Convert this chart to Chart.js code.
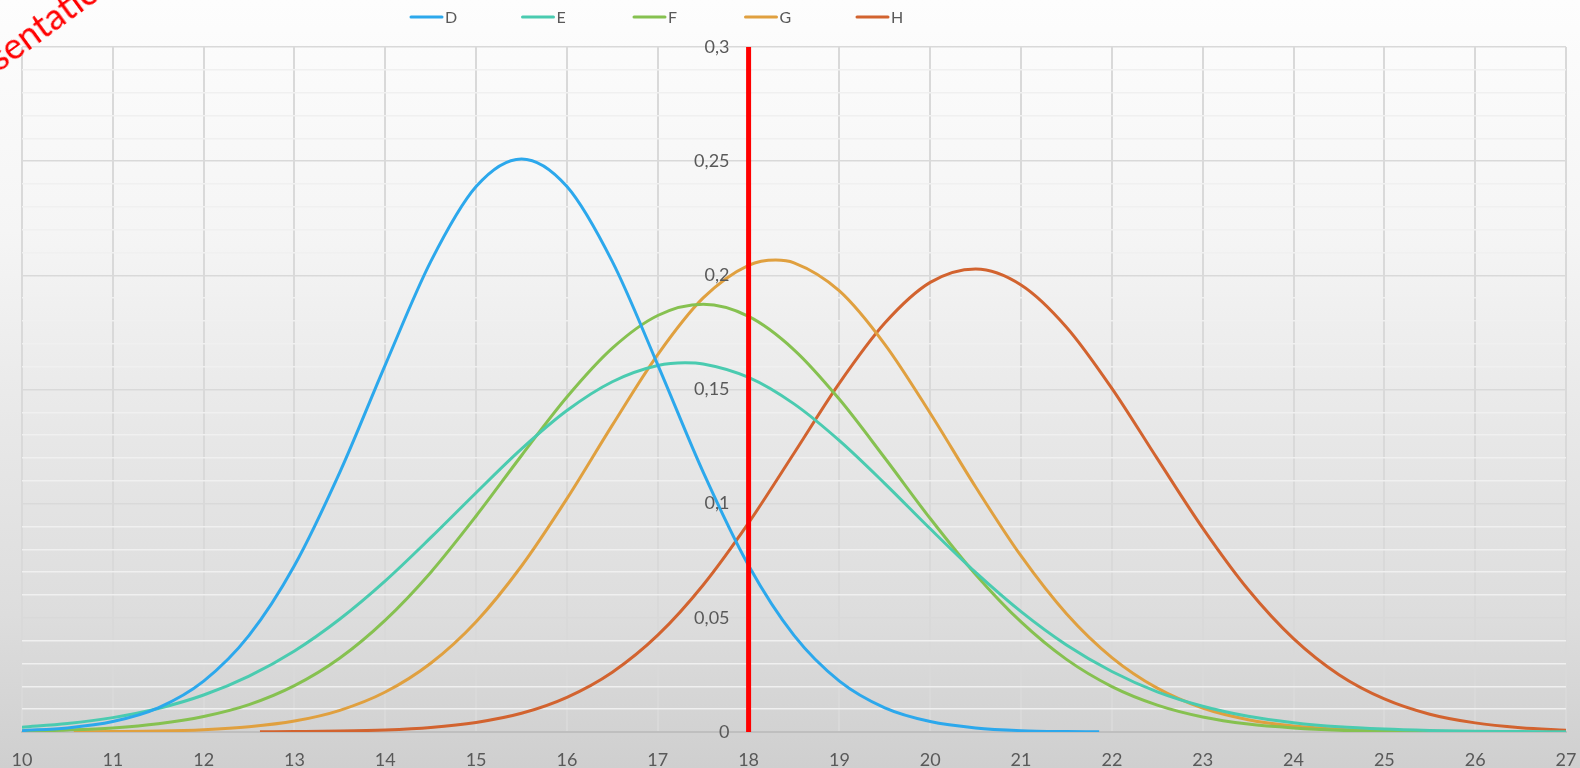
<!DOCTYPE html>
<html>
<head>
<meta charset="utf-8">
<script src="https://cdn.jsdelivr.net/npm/chart.js@4.4.1/dist/chart.umd.min.js"></script>
<style>
  html, body { margin: 0; padding: 0; }
  body {
    width: 1580px; height: 768px; overflow: hidden; position: relative;
    background: linear-gradient(to bottom, #fdfdfd 0%, #f5f5f5 30%, #e8e8e8 55%, #dddddd 80%, #cfcfcf 100%);
  }
  #c { position: absolute; left: 0; top: 0; }
  #mark {
    position: absolute; left: -62px; top: 77px;
    font-family: Lato, "DejaVu Sans", sans-serif; font-size: 36px; line-height: 1; color: #ff0000;
    transform: rotate(-36deg); transform-origin: 0 0; white-space: nowrap;
  }
</style>
</head>
<body>
<canvas id="c" width="1580" height="768"></canvas>
<div id="mark">Presentation</div>
<script>
// series names and colours
const names = ['D', 'E', 'F', 'G', 'H'];
const colors = ['#2ca8ec', '#4acbb0', '#86c150', '#e0a03f', '#d2632f'];

// x positions and values, one pair of lists per series
const xD = [10, 10.5, 11, 11.5, 12, 12.5, 13, 13.5, 14, 14.5, 15, 15.5, 16, 16.5, 17, 17.5, 18, 18.5, 19, 19.5, 20, 20.5, 21, 21.5, 21.86];
const dValues = [0.0006, 0.0018, 0.0046, 0.0106, 0.0223, 0.0423, 0.0729, 0.1138, 0.1608, 0.2060, 0.2389, 0.2510, 0.2389, 0.2060, 0.1608, 0.1138, 0.0729, 0.0423, 0.0223, 0.0106, 0.0046, 0.0018, 0.0006, 0.0002, 0.0001];

const xE = [10, 10.5, 11, 11.5, 12, 12.5, 13, 13.5, 14, 14.5, 15, 15.5, 16, 16.5, 17, 17.3, 17.5, 18, 18.5, 19, 19.5, 20, 20.5, 21, 21.5, 22, 22.5, 23, 23.5, 24, 24.5, 25, 25.5, 26, 26.5, 27];
const eValues = [0.0021, 0.0037, 0.0063, 0.0103, 0.0162, 0.0245, 0.0355, 0.0495, 0.0662, 0.0851, 0.1048, 0.1240, 0.1408, 0.1534, 0.1605, 0.1617, 0.1612, 0.1553, 0.1437, 0.1276, 0.1088, 0.0890, 0.0699, 0.0527, 0.0381, 0.0265, 0.0176, 0.0113, 0.0069, 0.0041, 0.0023, 0.0013, 0.0007, 0.0003, 0.0002, 0.0001];

const xF = [10, 10.5, 11, 11.5, 12, 12.5, 13, 13.5, 14, 14.5, 15, 15.5, 16, 16.5, 17, 17.5, 18, 18.5, 19, 19.5, 20, 20.5, 21, 21.5, 22, 22.5, 23, 23.5, 24, 24.5, 25, 25.5, 26];
const fValues = [0.0004, 0.0009, 0.0018, 0.0036, 0.0068, 0.0120, 0.0203, 0.0324, 0.0490, 0.0699, 0.0946, 0.1211, 0.1467, 0.1681, 0.1824, 0.1873, 0.1820, 0.1674, 0.1457, 0.1200, 0.0935, 0.0690, 0.0482, 0.0318, 0.0199, 0.0118, 0.0066, 0.0035, 0.0018, 0.0008, 0.0004, 0.0002, 0.0001];

const xG = [10.57, 11, 11.5, 12, 12.5, 13, 13.5, 14, 14.5, 15, 15.5, 16, 16.5, 17, 17.5, 18, 18.3, 18.5, 19, 19.5, 20, 20.5, 21, 21.5, 22, 22.5, 23, 23.5, 24, 24.5, 25, 25.5, 26.05];
const gValues = [0.0001, 0.0002, 0.0004, 0.0010, 0.0023, 0.0048, 0.0095, 0.0175, 0.0301, 0.0483, 0.0727, 0.1022, 0.1344, 0.1653, 0.1901, 0.2044, 0.2067, 0.2055, 0.1932, 0.1698, 0.1396, 0.1073, 0.0771, 0.0518, 0.0326, 0.0192, 0.0105, 0.0054, 0.0026, 0.0012, 0.0005, 0.0002, 0.0001];

const xH = [12.62, 13, 13.5, 14, 14.5, 15, 15.5, 16, 16.5, 17, 17.5, 18, 18.5, 19, 19.5, 20, 20.5, 21, 21.5, 22, 22.5, 23, 23.5, 24, 24.5, 25, 25.5, 26, 26.5, 27];
const hValues = [0.0001, 0.0002, 0.0004, 0.0009, 0.0020, 0.0042, 0.0082, 0.0152, 0.0262, 0.0424, 0.0644, 0.0916, 0.1221, 0.1528, 0.1791, 0.1969, 0.2028, 0.1958, 0.1773, 0.1505, 0.1197, 0.0893, 0.0624, 0.0409, 0.0251, 0.0145, 0.0078, 0.0040, 0.0019, 0.0008];

// the red vertical marker at x = 18
const markerX = [18, 18];
const markerValues = [0, 0.3];

// axes
const xMin = 10, xMax = 27, xStep = 1;
const yMin = 0, yMax = 0.3, yMinorStep = 0.01, yMajorStep = 0.05;
const yLabelsAt = 17.79; // y labels sit just left of the marker

const allX = [xD, xE, xF, xG, xH];
const allY = [dValues, eValues, fValues, gValues, hValues];

function toPoints(xs, ys) {
  return xs.map((x, i) => ({x: x, y: ys[i]}));
}

function isMajor(v) {
  return Math.round(v * 100) % Math.round(yMajorStep * 100) === 0;
}

// legend drawn by hand so it can sit where the original one sits
const legendPlugin = {
  id: 'sheetLegend',
  afterDraw(chart) {
    const ctx = chart.ctx;
    ctx.save();
    ctx.font = '16px Lato, "DejaVu Sans", sans-serif';
    ctx.textBaseline = 'middle';
    ctx.textAlign = 'left';
    names.forEach((n, i) => {
      const ds = chart.data.datasets[i];
      const x = 411 + i * 111.5, y = 17;
      ctx.strokeStyle = ds.borderColor;
      ctx.lineWidth = 3;
      ctx.lineCap = 'round';
      ctx.beginPath();
      ctx.moveTo(x, y);
      ctx.lineTo(x + 31, y);
      ctx.stroke();
      ctx.fillStyle = '#595959';
      ctx.fillText(ds.label, x + 34, y + 1);
    });
    ctx.restore();
  }
};

const datasets = names.map((n, i) => ({
  label: n,
  data: toPoints(allX[i], allY[i]),
  borderColor: colors[i],
  backgroundColor: colors[i],
  borderWidth: 3,
  pointRadius: 0,
  showLine: true,
  fill: false,
  cubicInterpolationMode: 'monotone'
}));

datasets.push({
  label: '18',
  data: toPoints(markerX, markerValues),
  borderColor: '#ff0000',
  borderWidth: 5,
  pointRadius: 0,
  showLine: true,
  order: -1
});

new Chart(document.getElementById('c').getContext('2d'), {
  type: 'scatter',
  data: {datasets: datasets},
  plugins: [legendPlugin],
  options: {
    responsive: false,
    animation: false,
    devicePixelRatio: 1,
    layout: {padding: {left: 22, right: 14, top: 47, bottom: 0}},
    plugins: {legend: {display: false}, tooltip: {enabled: false}},
    scales: {
      x: {
        type: 'linear',
        min: xMin, max: xMax,
        // fixed height; end labels may hang over the plot edges
        afterFit: s => { s.height = 36; s.paddingLeft = 0; s.paddingRight = 0; },
        grid: {color: '#d9d9d9', lineWidth: 2, drawTicks: false},
        border: {color: '#bfbfbf', width: 2},
        ticks: {
          stepSize: xStep,
          padding: 17,
          color: '#595959',
          font: {family: 'Lato, "DejaVu Sans", sans-serif', size: 18}
        }
      },
      y: {
        type: 'linear',
        position: {x: yLabelsAt},
        min: yMin, max: yMax,
        grid: {
          drawTicks: false,
          lineWidth: 1.5,
          color: c => isMajor(c.tick.value) ? '#d9d9d9' : '#f0f0f0'
        },
        border: {display: false},
        ticks: {
          stepSize: yMinorStep,
          autoSkip: false,
          z: 1,
          color: '#595959',
          font: {family: 'Lato, "DejaVu Sans", sans-serif', size: 18},
          callback: v => isMajor(v) ? String(+v.toFixed(2)).replace('.', ',') : ''
        }
      }
    }
  }
});
</script>
</body>
</html>
